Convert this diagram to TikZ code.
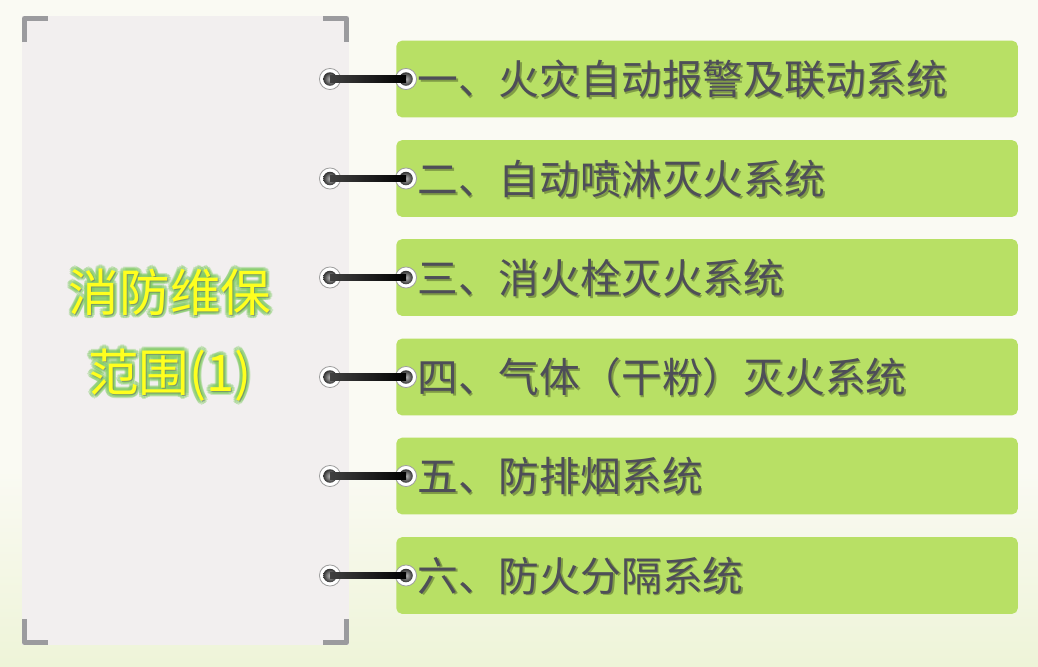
\documentclass[tikz,border=0pt]{standalone}
\usepackage{fontspec}
\setmainfont{Noto Sans CJK SC}
\usetikzlibrary{positioning,calc}

\definecolor{bgcream}{HTML}{FAFAF3}
\definecolor{bgleaf}{HTML}{EEF4D8}
\definecolor{panelgray}{HTML}{F2EFEF}
\definecolor{cornergray}{HTML}{9B9B9E}
\definecolor{itemgreen}{HTML}{B8E065}
\definecolor{itemtext}{HTML}{4E4E58}
\definecolor{glowgreen}{HTML}{7FCB62}
\definecolor{titleyellow}{HTML}{FFFF1E}

\tikzset{
  itembox/.style={fill=itemgreen, rounded corners=4pt, minimum width=442pt,
    minimum height=54.5pt, anchor=west, inner sep=0pt},
  itemlabel/.style={anchor=west, text=itemtext, inner sep=0pt,
    font=\fontsize{29}{32}\selectfont},
  itemshadow/.style={itemlabel, text=black, opacity=0.3},
  ringnode/.style={circle, draw=gray!75, fill=white, line width=0.6pt,
    minimum size=15pt, inner sep=0pt},
  titletext/.style={align=center, inner sep=0pt,
    font=\fontsize{36}{57}\selectfont},
  corner/.style={draw=cornergray, line width=3.6pt, line cap=butt}
}

\begin{document}
\begin{tikzpicture}[x=0.025cm, y=-0.025cm, line join=round]
  \useasboundingbox (0,0) rectangle (1038,666);
  % background
  \fill[bgcream] (0,0) rectangle (1038,666);
  \shade[top color=bgcream, bottom color=bgleaf] (0,470) rectangle (1038,666);

  % left panel
  \fill[panelgray] (22,16) rectangle (349,645);
  \draw[corner] (24.5,42) -- (24.5,18.5) -- (48,18.5);
  \draw[corner] (323,18.5) -- (346.5,18.5) -- (346.5,42);
  \draw[corner] (24.5,619) -- (24.5,642.5) -- (48,642.5);
  \draw[corner] (323,642.5) -- (346.5,642.5) -- (346.5,619);

  % title with glow
  \foreach \a in {0,30,...,330}
    \node[titletext, text=glowgreen, opacity=0.35, shift={(\a:2.6pt)}]
      (glow\a) at (170,335) {消防维保\\范围(1)};
  \node[titletext, text=black!60, opacity=0.5, shift={(0.8pt,-0.8pt)}]
    (titleshadow) at (170,335) {消防维保\\范围(1)};
  \node[titletext, text=titleyellow] (title) at (170,335) {消防维保\\范围(1)};

  % items
  \foreach \i/\yc/\txt in {1/79/{一、火灾自动报警及联动系统},
                           2/178.5/{二、自动喷淋灭火系统},
                           3/277.5/{三、消火栓灭火系统},
                           4/377/{四、气体（干粉）灭火系统},
                           5/476/{五、防排烟系统},
                           6/575.5/{六、防火分隔系统}}{
    \node[itembox] (box\i) at (396,\yc) {};
    \node[itemshadow] (shadow\i) at ([xshift=16.2pt,yshift=-1.4pt]box\i.west) {\txt};
    \node[itemlabel] (label\i) at ([xshift=15pt]box\i.west) {\txt};
    \node[ringnode] (ringL\i) at (330,\yc) {};
    \node[ringnode] (ringR\i) at (406,\yc) {};
    \shade[inner color=gray!55, outer color=black!80] (ringL\i.center) circle (4.8pt);
    \shade[inner color=gray!55, outer color=black!80] (ringR\i.center) circle (4.8pt);
    \shade[left color=black!75, middle color=gray!35, right color=black]
      ([yshift=-2.4pt]ringL\i.center) rectangle ([yshift=2.4pt]ringR\i.center);
  }
\end{tikzpicture}
\end{document}
